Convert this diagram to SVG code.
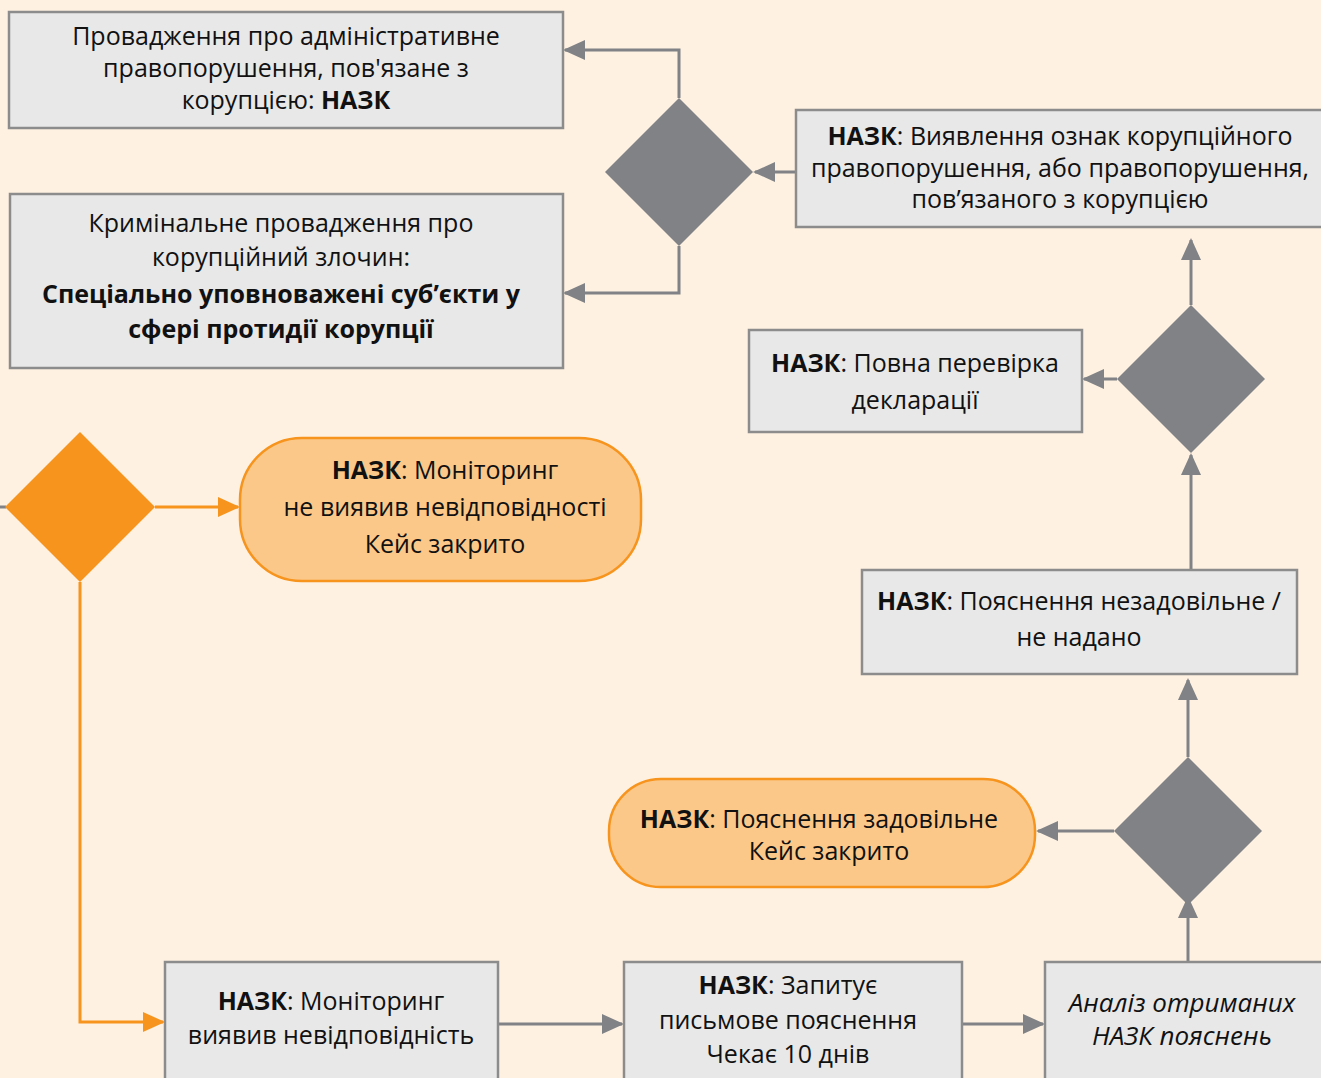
<svg xmlns="http://www.w3.org/2000/svg" width="1321" height="1078" viewBox="0 0 1321 1078">
<defs>
<style>
.bg{fill:#FEF1E1}
.box{fill:#E8E8E8;stroke:#8C8C8C;stroke-width:2.5}
.obox{fill:#FBC88A;stroke:#F7941D;stroke-width:2.5}
.dia{fill:#808285}
.odia{fill:#F7941D}
.con{fill:none;stroke:#808285;stroke-width:3}
.ocon{fill:none;stroke:#F7941D;stroke-width:3}
text{font-family:"Open Sans","Noto Sans","DejaVu Sans",sans-serif;font-size:25px;fill:#111;text-anchor:middle}
.b{font-weight:bold}
.i{font-style:italic;font-size:26px}
</style>
<marker id="ah" viewBox="0 0 22 22" refX="20" refY="11" markerWidth="22" markerHeight="22" orient="auto" markerUnits="userSpaceOnUse">
<path d="M0,1 L22,11 L0,21 z" fill="#808285"/>
</marker>
<marker id="ao" viewBox="0 0 22 22" refX="20" refY="11" markerWidth="22" markerHeight="22" orient="auto" markerUnits="userSpaceOnUse">
<path d="M0,1 L22,11 L0,21 z" fill="#F7941D"/>
</marker>
</defs>
<rect class="bg" x="0" y="0" width="1321" height="1078"/>

<g id="connectors">
<polyline class="con" points="679,98 679,50 565,50" marker-end="url(#ah)"/>
<polyline class="con" points="679,246 679,293 565,293" marker-end="url(#ah)"/>
<line class="con" x1="796" y1="172" x2="755" y2="172" marker-end="url(#ah)"/>
<line class="con" x1="1191" y1="305" x2="1191" y2="240" marker-end="url(#ah)"/>
<line class="con" x1="1117" y1="379" x2="1084" y2="379" marker-end="url(#ah)"/>
<line class="con" x1="1191" y1="570" x2="1191" y2="455" marker-end="url(#ah)"/>
<line class="con" x1="1188" y1="757" x2="1188" y2="680" marker-end="url(#ah)"/>
<line class="con" x1="1114" y1="831" x2="1038" y2="831" marker-end="url(#ah)"/>
<line class="con" x1="1188" y1="962" x2="1188" y2="898" marker-end="url(#ah)"/>
<line class="con" x1="498" y1="1024" x2="622" y2="1024" marker-end="url(#ah)"/>
<line class="con" x1="962" y1="1024" x2="1043" y2="1024" marker-end="url(#ah)"/>
<line class="con" x1="0" y1="507" x2="6" y2="507"/>
<line class="ocon" x1="155" y1="507" x2="238" y2="507" marker-end="url(#ao)"/>
<polyline class="ocon" points="80,582 80,1022 163,1022" marker-end="url(#ao)"/>
</g>

<g id="n-admin">
<rect class="box" x="9" y="12" width="554" height="116"/>
<text x="286" y="45">Провадження про адміністративне</text>
<text x="286" y="77">правопорушення, пов'язане з</text>
<text x="286" y="109">корупцією: <tspan class="b">НАЗК</tspan></text>
</g>

<g id="n-criminal">
<rect class="box" x="10" y="194" width="553" height="174"/>
<text x="281" y="232">Кримінальне провадження про</text>
<text x="281" y="266">корупційний злочин:</text>
<text x="281" y="303" class="b">Спеціально уповноважені суб’єкти у</text>
<text x="281" y="338" class="b">сфері протидії корупції</text>
</g>

<g id="d1"><polygon class="dia" points="679,98 753,172 679,246 605,172"/></g>

<g id="n-detect">
<rect class="box" x="796" y="110" width="530" height="117"/>
<text x="1060" y="145"><tspan class="b">НАЗК</tspan>: Виявлення ознак корупційного</text>
<text x="1060" y="177">правопорушення, або правопорушення,</text>
<text x="1060" y="208">пов’язаного з корупцією</text>
</g>

<g id="d2"><polygon class="dia" points="1191,305 1265,379 1191,453 1117,379"/></g>

<g id="n-check">
<rect class="box" x="749" y="330" width="333" height="102"/>
<text x="915" y="372"><tspan class="b">НАЗК</tspan>: Повна перевірка</text>
<text x="915" y="409">декларації</text>
</g>

<g id="n-unsat">
<rect class="box" x="862" y="570" width="435" height="104"/>
<text x="1079" y="610"><tspan class="b">НАЗК</tspan>: Пояснення незадовільне /</text>
<text x="1079" y="646">не надано</text>
</g>

<g id="d3"><polygon class="dia" points="1188,757 1262,831 1188,905 1114,831"/></g>

<g id="n-sat">
<rect class="obox" x="609" y="779" width="426" height="108" rx="52"/>
<text x="819" y="828"><tspan class="b">НАЗК</tspan>: Пояснення задовільне</text>
<text x="829" y="860">Кейс закрито</text>
</g>

<g id="d-orange"><polygon class="odia" points="80,432 155,507 80,582 5,507"/></g>

<g id="n-nomismatch">
<rect class="obox" x="240" y="438" width="401" height="143" rx="62"/>
<text x="445" y="479"><tspan class="b">НАЗК</tspan>: Моніторинг</text>
<text x="445" y="516">не виявив невідповідності</text>
<text x="445" y="553">Кейс закрито</text>
</g>

<g id="n-mismatch">
<rect class="box" x="165" y="962" width="333" height="130"/>
<text x="331" y="1010"><tspan class="b">НАЗК</tspan>: Моніторинг</text>
<text x="331" y="1044">виявив невідповідність</text>
</g>

<g id="n-request">
<rect class="box" x="624" y="962" width="338" height="130"/>
<text x="788" y="994"><tspan class="b">НАЗК</tspan>: Запитує</text>
<text x="788" y="1029">письмове пояснення</text>
<text x="788" y="1063">Чекає 10 днів</text>
</g>

<g id="n-analysis">
<rect class="box" x="1045" y="962" width="290" height="130"/>
<text x="1182" y="1012" class="i">Аналіз отриманих</text>
<text x="1182" y="1045" class="i">НАЗК пояснень</text>
</g>
</svg>
